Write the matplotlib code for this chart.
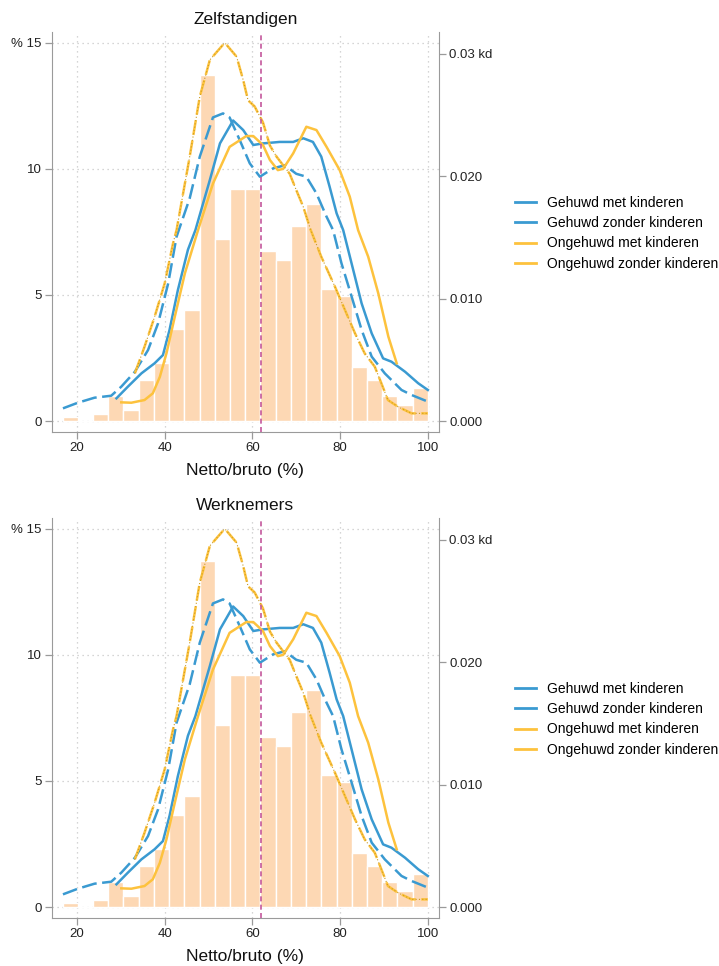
import numpy as np
import matplotlib
matplotlib.use("Agg")
import matplotlib.pyplot as plt
from matplotlib.lines import Line2D

plt.rcParams["font.family"] = ["Liberation Sans", "DejaVu Sans"]

panel_titles = ["Zelfstandigen", "Werknemers"]

# histogram: share of observations (%) per bin, 24 bins between 16.7 and 100
bin_edges = np.linspace(16.7, 100, 25)
hist_pct = [0.15, 0.0, 0.3, 1.0, 0.45, 1.65, 2.3, 3.65, 4.4, 13.7, 7.2, 9.2,
            9.2, 6.75, 6.4, 7.75, 8.6, 5.25, 4.95, 2.15, 1.65, 1.0, 0.65, 1.3]

# kernel densities per household type (right axis)
gmk_x = [29.0, 31.6, 34.7, 37.7, 39.6, 41.1, 43.0, 45.3, 47.0, 50.3, 52.6, 55.6,
         57.9, 60.2, 62.4, 66.2, 69.3, 71.6, 73.8, 75.7, 77.6, 79.2, 80.7, 82.6,
         84.9, 87.2, 89.8, 91.7, 94.8, 97.8, 100.0]
gmk_d = [0.00187, 0.00282, 0.00391, 0.00473, 0.0054, 0.00745, 0.0107, 0.0140,
         0.0156, 0.0197, 0.02268, 0.02455, 0.02377, 0.02255, 0.02268, 0.0228,
         0.0228, 0.0231, 0.0228, 0.0216, 0.01915, 0.01697, 0.0156, 0.0129,
         0.00962, 0.00717, 0.00513, 0.00486, 0.00404, 0.0031, 0.00255]

gzk_x = [16.8, 20.2, 24.0, 27.8, 30.1, 33.2, 36.2, 38.5, 40.8, 42.7, 45.7, 48.0,
         51.0, 53.3, 54.8, 57.1, 59.4, 61.7, 64.7, 67.4, 70.0, 72.3, 74.6, 76.9,
         78.4, 80.3, 82.6, 84.9, 87.2, 90.2, 94.0, 96.3, 100.0]
gzk_d = [0.00105, 0.00151, 0.00192, 0.00208, 0.00282, 0.00404, 0.00581, 0.008,
         0.01126, 0.01506, 0.0182, 0.0216, 0.0248, 0.02513, 0.0248, 0.02296,
         0.02105, 0.01996, 0.02064, 0.0209, 0.0202, 0.01996, 0.0186, 0.0167,
         0.0156, 0.0129, 0.0102, 0.00745, 0.00527, 0.0039, 0.00255, 0.00214, 0.0016]

omk_x = [30.1, 32.4, 35.4, 37.3, 38.9, 40.4, 42.3, 44.6, 47.6, 51.0, 54.8, 58.6,
         60.2, 62.4, 64.0, 65.8, 67.0, 69.3, 72.3, 74.6, 76.9, 79.9, 82.2, 84.1,
         86.4, 88.7, 91.0, 92.9]
omk_d = [0.00154, 0.00151, 0.00173, 0.00228, 0.00363, 0.00554, 0.00853, 0.01207,
         0.0156, 0.0194, 0.0224, 0.02328, 0.02328, 0.02255, 0.02132, 0.0205,
         0.0206, 0.02187, 0.02404, 0.02377, 0.0224, 0.0205, 0.01833, 0.0156,
         0.01343, 0.01044, 0.0069, 0.00473]

ozk_x = [33.2, 35.4, 37.7, 40.0, 41.9, 42.7, 45.7, 48.0, 50.3, 53.7, 56.4, 57.9,
         59.0, 60.5, 62.4, 64.0, 65.5, 68.5, 70.0, 71.6, 73.3, 75.7, 78.8, 81.1,
         83.4, 85.6, 87.9, 89.4, 90.9, 93.2, 96.3, 100.0]
ozk_d = [0.00391, 0.00608, 0.00853, 0.01126, 0.01452, 0.0156, 0.0216, 0.0265,
         0.0295, 0.0309, 0.02976, 0.02785, 0.0262, 0.0257, 0.0244, 0.0225, 0.0216,
         0.0202, 0.01887, 0.0175, 0.0156, 0.01343, 0.011, 0.00908, 0.00717,
         0.00554, 0.00445, 0.0031, 0.00173, 0.00118, 0.00064, 0.00064]

median_x = 61.9

legend_labels = ["Gehuwd met kinderen", "Gehuwd zonder kinderen",
                 "Ongehuwd met kinderen", "Ongehuwd zonder kinderen"]

blue = "#3a9ad1"
yellow = "#fdc23d"
bar_color = "#fdd8b4"
spine_color = "#9a9a9a"

fig = plt.figure(figsize=(7.19, 9.66), dpi=100)

panel_bottoms = [0.5528, 0.0497]
for title, bottom in zip(panel_titles, panel_bottoms):
    ax = fig.add_axes([0.0723, bottom, 0.538, 0.414])
    ax.bar(bin_edges[:-1], hist_pct, width=np.diff(bin_edges), align="edge",
           color=bar_color, edgecolor="white", linewidth=1.0, zorder=2)
    ax.set_xlim(14.3, 102.5)
    ax.set_ylim(-0.43, 15.42)
    ax.set_xticks([20, 40, 60, 80, 100])
    ax.set_yticks([0, 5, 10, 15])
    ax.set_yticklabels(["0", "5", "10", "% 15"])
    ax.grid(True, color="#c8c8c8", linestyle=(0, (1, 3)), linewidth=0.9, zorder=0)
    ax.set_axisbelow(True)
    for s in ["top", "right"]:
        ax.spines[s].set_visible(False)
    for s in ["left", "bottom"]:
        ax.spines[s].set_color(spine_color)
    ax.tick_params(direction="out", length=5, width=0.9, color=spine_color,
                   labelsize=9.5, pad=2.5, labelcolor="#222222")
    ax.set_xlabel("Netto/bruto (%)", fontsize=12.5, labelpad=6, color="#111111")
    ax.set_title(title, fontsize=12.5, pad=6, color="#111111")

    ax2 = ax.twinx()
    ax2.set_ylim(-0.00088, 0.03177)
    ax2.set_yticks([0, 0.01, 0.02, 0.03])
    ax2.set_yticklabels(["0.000", "0.010", "0.020", "0.03 kd"])
    for s in ["top", "left", "bottom"]:
        ax2.spines[s].set_visible(False)
    ax2.spines["right"].set_color(spine_color)
    ax2.tick_params(direction="out", length=5, width=0.9, color=spine_color,
                    labelsize=9.5, pad=2.5, labelcolor="#222222")

    ax2.plot(gmk_x, gmk_d, color=blue, lw=1.8)
    ax2.plot(gzk_x, gzk_d, color=blue, lw=1.8, dashes=(6, 2.2))
    ax2.plot(omk_x, omk_d, color=yellow, lw=1.8)
    ax2.plot(ozk_x, ozk_d, color=yellow, lw=1.8, dashes=(6, 2.2))
    ax2.plot(ozk_x, ozk_d, color="#c89a22", lw=0.8, dashes=(1, 2))
    ax2.axvline(median_x, color="#c4589c", lw=1.2, dashes=(3, 2))

    handles = [Line2D([], [], color=blue, lw=2), Line2D([], [], color=blue, lw=2),
               Line2D([], [], color=yellow, lw=2), Line2D([], [], color=yellow, lw=2)]
    leg_y = bottom + 0.414 * 0.518 - 0.0088
    ax2.legend(handles, legend_labels, loc="center left",
               bbox_to_anchor=(0.716, leg_y), bbox_transform=fig.transFigure,
               frameon=False, fontsize=10, handlelength=1.5, handletextpad=0.8,
               labelspacing=0.45, borderpad=0, borderaxespad=0)

fig.savefig("out.png", dpi=100)
